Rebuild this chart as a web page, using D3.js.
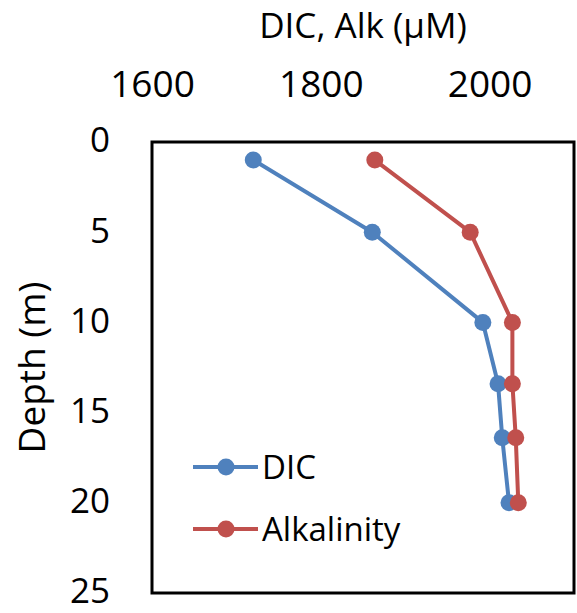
<!DOCTYPE html>
<html>
<head>
<meta charset="utf-8">
<script src="https://cdn.jsdelivr.net/npm/d3@7"></script>
<style>
  html, body { margin: 0; padding: 0; background: #fff; overflow: hidden; }
  svg { display: block; }
  text { font-family: "Open Sans", "Liberation Sans", sans-serif; fill: #000; }
</style>
</head>
<body>
<svg id="chart" width="577" height="613"></svg>
<script>
// Depth profile of dissolved inorganic carbon and alkalinity
const depths = [1, 5, 10, 13.4, 16.4, 20];
const dicValues = [1720, 1861, 1992, 2010, 2015, 2023];
const alkValues = [1864, 1977, 2027, 2027, 2031, 2034];
const xTicks = [1600, 1800, 2000];
const yTicks = [0, 5, 10, 15, 20, 25];
const seriesNames = ["DIC", "Alkalinity"];
const seriesColors = ["#4F81BD", "#C0504D"];

const svg = d3.select("#chart");
const plot = { left: 152, top: 142, right: 574, bottom: 593 };

const x = d3.scaleLinear().domain([1600, 2100]).range([plot.left, plot.right]);
const y = d3.scaleLinear().domain([0, 25]).range([plot.top, plot.bottom]);

// Axes (labels only, no tick marks)
const xAxis = d3.axisTop(x).tickValues(xTicks).tickSize(0).tickPadding(0).tickFormat(d3.format("d"));
svg.append("g")
  .attr("transform", `translate(0,${97})`)
  .call(xAxis)
  .call(g => g.select(".domain").remove())
  .selectAll("text")
  .attr("dy", 0)
  .style("font-size", "37px")
  .style("font-family", "'Open Sans', sans-serif");

const yAxis = d3.axisLeft(y).tickValues(yTicks).tickSize(0).tickPadding(0);
svg.append("g")
  .attr("transform", `translate(${110},0)`)
  .call(yAxis)
  .call(g => g.select(".domain").remove())
  .selectAll("text")
  .attr("dy", "0.28em")
  .style("font-size", "35px")
  .style("font-family", "'Open Sans', sans-serif");

// Axis titles
svg.append("text")
  .attr("x", (plot.left + plot.right) / 2)
  .attr("y", 38)
  .attr("text-anchor", "middle")
  .style("font-size", "35px")
  .text("DIC, Alk (\u03BCM)");

svg.append("text")
  .attr("transform", `translate(45,${(plot.top + plot.bottom) / 2}) rotate(-90)`)
  .attr("text-anchor", "middle")
  .style("font-size", "37px")
  .text("Depth (m)");

// Series
const series = [dicValues, alkValues].map((vals, i) => ({
  name: seriesNames[i],
  color: seriesColors[i],
  points: vals.map((v, j) => ({ v, d: depths[j] }))
}));

const line = d3.line().x(p => x(p.v)).y(p => y(p.d));

series.forEach(s => {
  const g = svg.append("g");
  g.append("path")
    .attr("d", line(s.points))
    .attr("fill", "none")
    .attr("stroke", s.color)
    .attr("stroke-width", 4)
    .attr("stroke-linejoin", "round");
  g.selectAll("circle").data(s.points).enter().append("circle")
    .attr("cx", p => x(p.v))
    .attr("cy", p => y(p.d))
    .attr("r", 8.5)
    .attr("fill", s.color);
});

// Plot border
svg.append("rect")
  .attr("x", plot.left)
  .attr("y", plot.top)
  .attr("width", plot.right - plot.left)
  .attr("height", plot.bottom - plot.top)
  .attr("fill", "none")
  .attr("stroke", "#000")
  .attr("stroke-width", 3);

// Legend
const legend = svg.append("g");
series.forEach((s, i) => {
  const ly = 467 + i * 62;
  legend.append("line")
    .attr("x1", 193).attr("x2", 258)
    .attr("y1", ly).attr("y2", ly)
    .attr("stroke", s.color).attr("stroke-width", 4);
  legend.append("circle")
    .attr("cx", 226).attr("cy", ly).attr("r", 8.5)
    .attr("fill", s.color);
  legend.append("text")
    .attr("x", 262).attr("y", ly)
    .attr("dy", "0.36em")
    .style("font-size", "33px")
    .text(s.name);
});
</script>
</body>
</html>
